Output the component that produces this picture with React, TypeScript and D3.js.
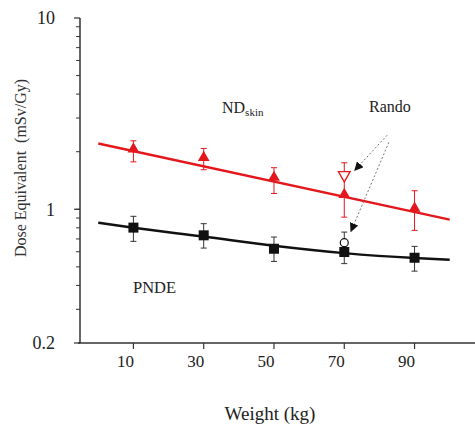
import React, { useEffect, useRef } from "react";
import * as d3 from "d3";

// measured points (weight kg, dose equivalent mSv/Gy)
const weights = [10, 30, 50, 70, 90];
const ndSkin = [2.04, 1.84, 1.45, 1.18, 1.0];
const ndSkinLow = [1.77, 1.61, 1.21, 0.91, 0.776];
const ndSkinHigh = [2.28, 2.08, 1.65, 1.75, 1.25];
const pnde = [0.802, 0.731, 0.622, 0.598, 0.558];
const pndeLow = [0.68, 0.627, 0.534, 0.52, 0.475];
const pndeHigh = [0.919, 0.841, 0.716, 0.76, 0.64];

// fitted curves
const ndFit = [
  { w: 0, v: 2.21 },
  { w: 100, v: 0.883 },
];
const pndeFit = [
  { w: 0, v: 0.85 },
  { w: 10, v: 0.8 },
  { w: 30, v: 0.72 },
  { w: 50, v: 0.645 },
  { w: 70, v: 0.59 },
  { w: 90, v: 0.556 },
  { w: 100, v: 0.545 },
];

// Rando phantom points
const randoWeight = 70;
const randoNd = 1.51;
const randoPnde = 0.669;

const yTickLabels = [0.2, 1, 10];
const xTickLabels = [10, 30, 50, 70, 90];

const RED = "#e3171c";
const DARK = "#111";

function App() {
  const svgRef = useRef<SVGSVGElement>(null);
  const width = 475;
  const height = 431;

  useEffect(() => {
    const svg = d3.select(svgRef.current);
    svg.selectAll("*").remove();

    const x = d3.scaleLinear().domain([-5.2, 107.2]).range([80, 475]);
    const y = d3.scaleLog().domain([0.2, 10]).range([343, 18]);
    const font = "'Liberation Serif', 'Times New Roman', serif";

    // minor ticks 0.2..10
    const minor: number[] = [];
    for (let v = 0.3; v < 1; v += 0.1) minor.push(+v.toFixed(1));
    for (let v = 2; v < 10; v++) minor.push(v);

    const axisColor = "#333";
    svg
      .selectAll(".minor")
      .data(minor)
      .join("line")
      .attr("x1", 76)
      .attr("x2", 80)
      .attr("y1", (d) => y(d))
      .attr("y2", (d) => y(d))
      .attr("stroke", axisColor)
      .attr("stroke-width", 1);
    svg
      .selectAll(".major")
      .data(yTickLabels)
      .join("line")
      .attr("x1", 74)
      .attr("x2", 80)
      .attr("y1", (d) => y(d))
      .attr("y2", (d) => y(d))
      .attr("stroke", axisColor)
      .attr("stroke-width", 1.2);

    // axes lines
    svg
      .append("line")
      .attr("x1", 80)
      .attr("x2", 80)
      .attr("y1", y(10))
      .attr("y2", y(0.2))
      .attr("stroke", axisColor)
      .attr("stroke-width", 1.5);
    svg
      .append("line")
      .attr("x1", 78)
      .attr("x2", 475)
      .attr("y1", y(0.2))
      .attr("y2", y(0.2))
      .attr("stroke", axisColor)
      .attr("stroke-width", 1.5);

    svg
      .selectAll(".xt")
      .data(xTickLabels)
      .join("line")
      .attr("x1", (d) => x(d))
      .attr("x2", (d) => x(d))
      .attr("y1", y(0.2))
      .attr("y2", y(0.2) + 6)
      .attr("stroke", axisColor)
      .attr("stroke-width", 1.2);

    // tick labels
    svg
      .selectAll(".yl")
      .data(yTickLabels)
      .join("text")
      .attr("x", 55)
      .attr("y", (d) => y(d))
      .attr("dy", "0.35em")
      .attr("text-anchor", "end")
      .style("font-family", font)
      .style("font-size", "18px")
      .attr("fill", "#222")
      .text((d) => String(d));

    svg
      .selectAll(".xl")
      .data(xTickLabels)
      .join("text")
      .attr("x", (d) => x(d) - 8)
      .attr("y", 367)
      .attr("text-anchor", "middle")
      .style("font-family", font)
      .style("font-size", "17px")
      .attr("fill", "#222")
      .text((d) => String(d));

    // axis titles
    svg
      .append("text")
      .attr("x", 270)
      .attr("y", 420)
      .attr("text-anchor", "middle")
      .style("font-family", font)
      .style("font-size", "19px")
      .attr("fill", "#222")
      .text("Weight (kg)");

    svg
      .append("text")
      .attr("transform", "translate(26,168) rotate(-90)")
      .attr("text-anchor", "middle")
      .style("font-family", font)
      .style("font-size", "16px")
      .style("white-space", "pre")
      .attr("fill", "#333")
      .text("Dose Equivalent  (mSv/Gy)");

    // fitted lines
    const line = d3
      .line<{ w: number; v: number }>()
      .x((d) => x(d.w))
      .y((d) => y(d.v));
    svg
      .append("path")
      .attr("d", line(ndFit))
      .attr("fill", "none")
      .attr("stroke", RED)
      .attr("stroke-width", 2.5);
    svg
      .append("path")
      .attr("d", line.curve(d3.curveMonotoneX)(pndeFit))
      .attr("fill", "none")
      .attr("stroke", DARK)
      .attr("stroke-width", 2.5);

    // error bars
    const errBars = (
      lo: number[],
      hi: number[],
      color: string
    ) => {
      const g = svg.append("g").attr("stroke", color).attr("stroke-width", 1);
      weights.forEach((w, i) => {
        const cx = x(w);
        g.append("line")
          .attr("x1", cx)
          .attr("x2", cx)
          .attr("y1", y(lo[i]))
          .attr("y2", y(hi[i]));
        [lo[i], hi[i]].forEach((v) => {
          g.append("line")
            .attr("x1", cx - 3)
            .attr("x2", cx + 3)
            .attr("y1", y(v))
            .attr("y2", y(v));
        });
      });
    };
    errBars(ndSkinLow, ndSkinHigh, RED);
    errBars(pndeLow, pndeHigh, "#333");

    // markers
    const tri = d3.symbol().type(d3.symbolTriangle).size(60);
    svg
      .selectAll(".tri")
      .data(weights)
      .join("path")
      .attr("d", tri())
      .attr("transform", (d, i) => `translate(${x(d)},${y(ndSkin[i]) - 1})`)
      .attr("fill", RED);

    svg
      .selectAll(".sq")
      .data(weights)
      .join("rect")
      .attr("x", (d) => x(d) - 5)
      .attr("y", (d, i) => y(pnde[i]) - 5)
      .attr("width", 10)
      .attr("height", 10)
      .attr("fill", DARK);

    // Rando open markers
    svg
      .append("path")
      .attr("d", tri())
      .attr(
        "transform",
        `translate(${x(randoWeight)},${y(randoNd)}) rotate(180)`
      )
      .attr("fill", "white")
      .attr("stroke", RED)
      .attr("stroke-width", 1.3);
    svg
      .append("circle")
      .attr("cx", x(randoWeight))
      .attr("cy", y(randoPnde))
      .attr("r", 4)
      .attr("fill", "white")
      .attr("stroke", DARK)
      .attr("stroke-width", 1.2);

    // arrows
    const defs = svg.append("defs");
    defs
      .append("marker")
      .attr("id", "arrowhead")
      .attr("viewBox", "0 0 10 10")
      .attr("refX", 9)
      .attr("refY", 5)
      .attr("markerWidth", 9)
      .attr("markerHeight", 9)
      .attr("markerUnits", "userSpaceOnUse")
      .attr("orient", "auto")
      .append("path")
      .attr("d", "M0,0 L10,5 L0,10 z")
      .attr("fill", "#111");

    const arrows = [
      { w0: 82.2, v0: 2.44, w1: 73.0, v1: 1.6 },
      { w0: 82.7, v0: 2.24, w1: 71.9, v1: 0.767 },
    ];
    arrows.forEach((a) => {
      svg
        .append("line")
        .attr("x1", x(a.w0))
        .attr("y1", y(a.v0))
        .attr("x2", x(a.w1))
        .attr("y2", y(a.v1))
        .attr("stroke", "#777")
        .attr("stroke-width", 1)
        .attr("stroke-dasharray", "2,2")
        .attr("marker-end", "url(#arrowhead)");
    });

    // labels
    const nd = svg
      .append("text")
      .attr("x", 222)
      .attr("y", 113)
      .style("font-family", font)
      .style("font-size", "16px")
      .attr("fill", "#222");
    nd.append("tspan").text("ND");
    nd.append("tspan")
      .attr("dy", 3)
      .style("font-size", "11px")
      .text("skin");

    svg
      .append("text")
      .attr("x", 369)
      .attr("y", 112)
      .style("font-family", font)
      .style("font-size", "16px")
      .attr("fill", "#222")
      .text("Rando");

    svg
      .append("text")
      .attr("x", 133)
      .attr("y", 293)
      .style("font-family", font)
      .style("font-size", "16.5px")
      .attr("fill", "#222")
      .text("PNDE");
  }, []);

  return (
    <svg
      ref={svgRef}
      width={width}
      height={height}
      style={{ position: "absolute", left: 0, top: 0, background: "white" }}
    ></svg>
  );
}

export default App;
